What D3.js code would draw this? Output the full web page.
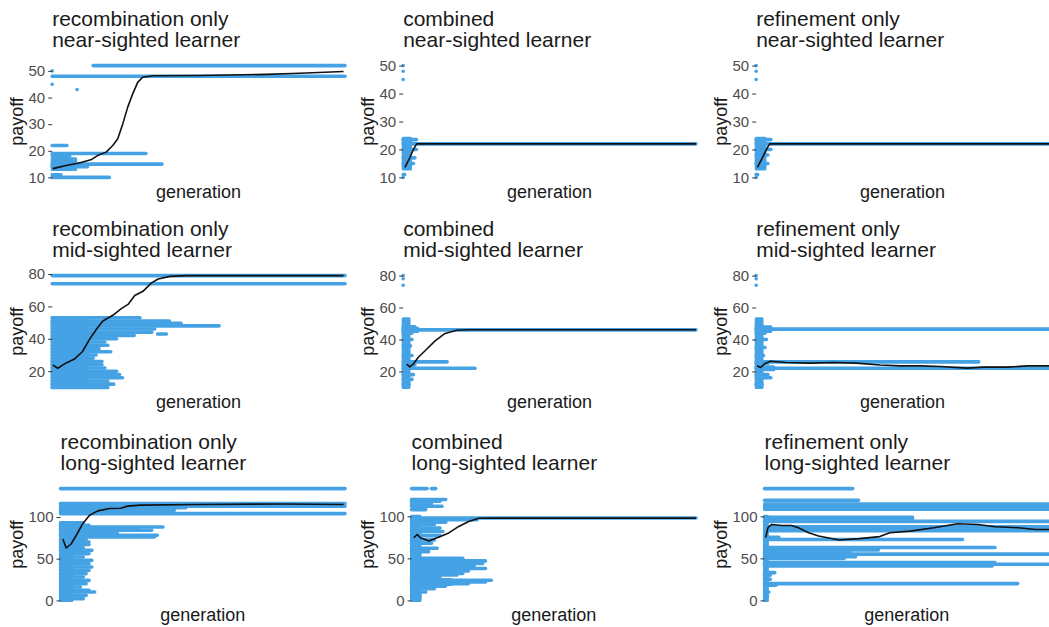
<!DOCTYPE html>
<html>
<head>
    <meta charset="UTF-8">
    <title>Payoff by generation</title>
    <script src="https://cdnjs.cloudflare.com/ajax/libs/d3/7.8.5/d3.min.js"></script>
    <style>
        body {
            margin: 0;
            background: #fff;
            font-family: "Liberation Sans", Arial, sans-serif;
        }
        .title { font-size: 21px; fill: #1a1a1a; }
        .axis-title { font-size: 18px; fill: #1a1a1a; }
        .tick text { font-size: 15px; fill: #4d4d4d; }
        .tick line { stroke: #333; }
    </style>
</head>
<body>
<svg id="chart" width="1049" height="627"></svg>
<script>
    var conditions = ["recombination only", "combined", "refinement only"];
    var learners = ["near-sighted learner", "mid-sighted learner", "long-sighted learner"];
    var payoffTicks = [[10, 20, 30, 40, 50], [20, 40, 60, 80], [0, 50, 100]];

    // bands: [payoff low, payoff high, generation from, generation to] (generation as % of run)
    // mean: [generation, mean payoff]
    var recNearBands = [
        [52, 52, 14, 100], [48, 48, 0, 100], [50, 50, 0, 0], [45, 45, 0, 0], [43, 43, 8.5, 8.5],
        [22, 22, 0, 5], [19, 19, 0, 32], [18, 18, 0, 6], [13, 17, 0, 8], [15, 15, 0, 37.5],
        [14, 14, 0, 12], [11, 11, 0, 3], [10, 10, 0, 19.5]
    ];
    var recNearMean = [
        [0.2, 13.3], [4.7, 14.5], [9.2, 15.4], [13.2, 16.6], [15.5, 18.2], [18.4, 19.5], [20.7, 22],
        [22.4, 24.5], [24.1, 30.1], [25.8, 36.4], [27.5, 41.4], [29.2, 45.7], [30.9, 47.6], [34.4, 48.2],
        [50.4, 48.3], [73.2, 48.7], [84.6, 49.1], [99.5, 49.8]
    ];

    var combNearBands = [
        [50, 50, 0, 0], [48, 48, 0, 0], [45, 45, 0, 0], [10, 10, 0, 0], [11, 11, 0, 0.5],
        [13, 24, 0, 2.5], [23.5, 23.5, 0, 4.5], [20, 20, 0, 4.5], [17, 17, 0, 4], [15, 15, 0, 3.5],
        [22, 22, 0, 100]
    ];
    var combNearMean = [[0.6, 13.6], [2, 16.5], [3.5, 20], [4.6, 22], [100, 22]];

    var refNearBands = [
        [50, 50, 0, 0], [48, 48, 0, 0], [45, 45, 0, 0], [10, 10, 0, 0], [11, 11, 0, 0.5],
        [13, 24, 0, 3], [23.5, 23.5, 0, 5], [20, 20, 0, 5], [18, 18, 0, 4], [15, 15, 0, 4],
        [22, 22, 0, 100]
    ];
    var refNearMean = [[0.4, 13.6], [2, 16.8], [3.5, 20], [4.6, 22], [100, 22]];

    var recMidBands = [
        [79, 79, 0, 100], [74, 74, 0, 100], [10, 53, 0, 12],
        [53, 53, 0, 30], [51, 51, 0, 40], [49.5, 49.5, 0, 44], [48, 48, 0, 57], [46, 46, 0, 35],
        [44, 44, 0, 34], [43, 43, 36, 39], [42, 42, 0, 28], [40, 40, 0, 22], [38, 38, 0, 18],
        [36, 36, 0, 19], [34, 34, 0, 16], [32, 32, 0, 20], [30, 30, 0, 15], [28, 28, 0, 14],
        [26, 26, 0, 17], [24, 24, 0, 17], [22, 22, 0, 18], [20, 20, 0, 22], [18, 18, 0, 23],
        [16, 16, 0, 24], [14, 14, 0, 19], [12, 12, 0, 21], [10, 10, 0, 19]
    ];
    var recMidMean = [
        [0.2, 23.8], [1.9, 21.8], [4.8, 25.1], [7.6, 27.5], [10.3, 32], [12.8, 39.8], [15.1, 45.9],
        [17.3, 51], [20.7, 54.5], [23.6, 58.6], [25.9, 61.2], [28.2, 66.7], [31, 69.3], [33.9, 74.5],
        [36.2, 76.9], [40.2, 78.5], [45.9, 79], [99.5, 79]
    ];

    var combMidBands = [
        [80, 80, 0, 0], [78, 78, 0, 0], [74, 74, 0, 0], [10, 53, 0, 2],
        [46, 46, 0, 100], [45, 47, 0, 5], [48, 48, 0, 4], [44, 44, 0, 3], [40, 40, 0, 3],
        [36, 36, 0, 2.5], [30, 30, 0, 3], [26, 26, 0, 15], [24, 24, 0, 4], [22, 22, 0, 24.5],
        [18, 18, 0, 3.5], [15, 15, 0, 3], [12, 12, 0, 2]
    ];
    var combMidMean = [
        [1.2, 24.5], [2.3, 22.9], [3.4, 24.5], [5.1, 28.7], [8, 33.9], [10.8, 39], [14.3, 43.8],
        [18.3, 45.8], [22.9, 46.1], [100, 46.1]
    ];

    var refMidBands = [
        [80, 80, 0, 0], [78, 78, 0, 0], [74, 74, 0, 0], [10, 53, 0, 2],
        [46.5, 46.5, 0, 100], [45, 48, 0, 5], [44, 44, 0, 3], [40, 40, 0, 3.5], [35, 35, 0, 3],
        [30, 30, 0, 2.5], [26, 26, 0, 76], [25, 25, 0, 4], [22, 22, 0, 100], [21, 23, 0, 6],
        [18, 18, 0, 4], [16, 16, 0, 5], [12, 12, 0, 2]
    ];
    var refMidMean = [
        [0.3, 23.5], [1.5, 22.5], [3.2, 25.2], [4.9, 26.4], [10.1, 25.6], [18.2, 25.2], [26.2, 25.6],
        [34.2, 25.2], [42.3, 24], [49.2, 23.5], [56, 23.5], [62.9, 23.1], [72.1, 22.1], [77.8, 22.7],
        [85.9, 22.7], [92.8, 23.5], [100, 23.5]
    ];

    var recLongBands = [
        [134, 134, 0, 100], [116, 116, 0, 100], [113, 113, 0, 100], [111, 111, 0, 44],
        [108, 108, 0, 40], [106, 106, 0, 25], [104, 104, 0, 100], [0, 93, 0, 4],
        [93, 93, 0, 8], [90, 90, 0, 10], [88, 88, 0, 36], [86, 86, 0, 27], [84, 84, 0, 32],
        [80, 80, 0, 20], [78, 78, 0, 34], [76, 76, 0, 33], [73, 73, 0, 9], [70, 70, 0, 10],
        [67, 67, 0, 10], [63, 63, 0, 8], [60, 60, 0, 11], [56, 56, 0, 10], [52, 52, 0, 8],
        [48, 48, 0, 11], [44, 44, 0, 10], [40, 40, 0, 11], [36, 36, 0, 10], [32, 32, 0, 9],
        [28, 28, 0, 8], [24, 24, 0, 10], [20, 20, 0, 9], [16, 16, 0, 7], [12, 12, 0, 10],
        [10, 10, 0, 12], [6, 6, 0, 9], [2, 2, 0, 8]
    ];
    var recLongMean = [
        [0.8, 73.7], [2, 62.8], [3.7, 67.6], [5.5, 77.8], [7.8, 91.9], [10.2, 102], [13.1, 107.3],
        [17.2, 110.2], [21.2, 110.5], [23.6, 113], [28.2, 114.2], [49.1, 115], [78.2, 115.5], [99.5, 115]
    ];

    var combLongBands = [
        [133, 133, 0, 5.5], [133, 133, 7, 8.5], [120, 120, 0, 12], [118, 118, 0, 10], [115, 115, 0, 7],
        [112, 112, 0, 10.7], [108, 108, 0, 5], [98, 98, 0, 100], [96, 96, 0, 23], [93, 93, 0, 12],
        [0, 100, 0, 3], [90, 90, 0, 8], [86, 86, 0, 10], [82, 82, 0, 11], [77, 77, 0, 10],
        [72, 72, 0, 8], [68, 68, 0, 7], [62, 62, 0, 9], [58, 58, 0, 6], [30, 48, 0, 16],
        [50, 50, 0, 18], [47, 47, 0, 26], [44, 44, 0, 25], [41, 41, 0, 22], [38, 38, 0, 26],
        [35, 35, 0, 20], [32, 32, 0, 18], [28, 28, 0, 10], [19, 25, 0, 14], [24, 24, 0, 28],
        [22, 22, 0, 26], [20, 20, 0, 20], [17, 17, 0, 12], [14, 14, 0, 8], [10, 10, 0, 5], [5, 5, 0, 3]
    ];
    var combLongMean = [
        [0.8, 74.5], [2, 78.4], [3.1, 74.5], [6.1, 70.6], [9, 74.5], [13.1, 80.3], [16.6, 88],
        [20.1, 93.8], [23.6, 97.7], [28.2, 97.9], [100, 97.9]
    ];

    var refLongBands = [
        [133, 133, 0, 31], [119, 119, 0, 33], [108, 115, 0, 100], [99, 99, 0, 52], [97, 97, 0, 52],
        [94, 94, 0, 100], [82.5, 88, 0, 100], [75, 75, 0, 5], [72.5, 72.5, 0, 69.6],
        [63, 63, 0, 81], [60, 60, 0, 40], [57, 57, 0, 30], [55, 55, 0, 100], [52, 52, 0, 32],
        [50, 50, 0, 28], [45, 45, 0, 81], [43, 43, 0, 100], [41, 41, 0, 80], [33, 33, 0, 3.6],
        [30, 30, 0, 2], [25, 25, 0, 2], [20, 20, 0, 89], [18, 18, 0, 4], [10, 10, 0, 1.5],
        [5, 5, 0, 1], [2, 2, 0, 0.5], [0, 100, 0, 1]
    ];
    var refLongMean = [
        [0.4, 74.7], [1.2, 86.4], [2.4, 90.3], [6, 89.1], [9.5, 89.1], [11.9, 86.4], [15.5, 80.5],
        [19, 76.6], [26.2, 71.9], [33.3, 73.5], [40.5, 75.9], [44, 80.5], [51.2, 82.4], [59.5, 86.4],
        [67.9, 91.1], [75, 90.3], [81, 87.6], [89.3, 86.4], [95.2, 84.4], [100, 84.4]
    ];

    var panels = [
        { row: 0, col: 0, bands: recNearBands, mean: recNearMean },
        { row: 0, col: 1, bands: combNearBands, mean: combNearMean },
        { row: 0, col: 2, bands: refNearBands, mean: refNearMean },
        { row: 1, col: 0, bands: recMidBands, mean: recMidMean },
        { row: 1, col: 1, bands: combMidBands, mean: combMidMean },
        { row: 1, col: 2, bands: refMidBands, mean: refMidMean },
        { row: 2, col: 0, bands: recLongBands, mean: recLongMean },
        { row: 2, col: 1, bands: combLongBands, mean: combLongMean },
        { row: 2, col: 2, bands: refLongBands, mean: refLongMean }
    ];

    var cellX = [0, 351, 704];
    var plotTop = [60, 270, 483];
    var plotH = 123;
    var blue = "#45a2e4";

    var svg = d3.select("#chart");

    function labelWidth(values) {
        var t = svg.append("g").attr("class", "tick");
        var w = 0;
        values.forEach(v => {
            var node = t.append("text").text(v).node();
            w = Math.max(w, node.getComputedTextLength());
        });
        t.remove();
        return w;
    }

    panels.forEach(p => {
        var ticks = payoffTicks[p.row];
        var left = cellX[p.col] + 28.5 + labelWidth(ticks) + 7;
        var right = cellX[p.col] + 345;
        var top = plotTop[p.row];
        var bottom = top + plotH;

        var vals = [];
        p.bands.forEach(b => vals.push(b[0], b[1]));
        p.mean.forEach(m => vals.push(m[1]));
        var ext = d3.extent(vals);
        var pad = (ext[1] - ext[0]) * 0.05;

        var x = d3.scaleLinear().domain([0, 100]).range([left, right]);
        var y = d3.scaleLinear().domain([ext[0] - pad, ext[1] + pad]).range([bottom, top]);

        var g = svg.append("g");

        // blue point bands
        var stripes = p.bands.filter(b => b[0] === b[1]);
        var blocks = p.bands.filter(b => b[0] !== b[1]);

        g.selectAll("rect.block")
            .data(blocks)
            .enter()
            .append("rect")
            .attr("class", "block")
            .attr("x", d => x(d[2]))
            .attr("y", d => y(d[1]))
            .attr("width", d => x(d[3]) - x(d[2]))
            .attr("height", d => y(d[0]) - y(d[1]))
            .style("fill", blue)
            .style("stroke", blue)
            .style("stroke-width", 3)
            .style("stroke-linejoin", "round");

        g.selectAll("line.stripe")
            .data(stripes)
            .enter()
            .append("line")
            .attr("class", "stripe")
            .attr("x1", d => x(d[2]))
            .attr("x2", d => x(d[3]))
            .attr("y1", d => y(d[0]))
            .attr("y2", d => y(d[0]))
            .style("stroke", blue)
            .style("stroke-width", 3.6)
            .style("stroke-linecap", "round");

        // mean payoff line
        var line = d3.line().x(d => x(d[0])).y(d => y(d[1]));
        g.append("path")
            .datum(p.mean)
            .attr("d", line)
            .style("fill", "none")
            .style("stroke", "#111")
            .style("stroke-width", 1.6)
            .style("stroke-linejoin", "round");

        // y axis, no axis line
        var yAxis = g.append("g")
            .attr("transform", `translate(${left},0)`)
            .call(d3.axisLeft(y).tickValues(ticks).tickSize(4).tickPadding(3));
        yAxis.select(".domain").remove();
        yAxis.selectAll("text").attr("font-family", null).attr("font-size", null);

        // titles
        var title = g.append("text")
            .attr("class", "title")
            .attr("x", left)
            .attr("y", top - 34);
        title.append("tspan").attr("x", left).text(conditions[p.col]);
        title.append("tspan").attr("x", left).attr("dy", 21).text(learners[p.row]);

        g.append("text")
            .attr("class", "axis-title")
            .attr("x", (left + right) / 2)
            .attr("y", bottom + 15)
            .style("text-anchor", "middle")
            .text("generation");

        g.append("text")
            .attr("class", "axis-title")
            .attr("transform", `translate(${cellX[p.col] + 23},${(top + bottom) / 2}) rotate(-90)`)
            .style("text-anchor", "middle")
            .text("payoff");
    });
</script>
</body>
</html>
